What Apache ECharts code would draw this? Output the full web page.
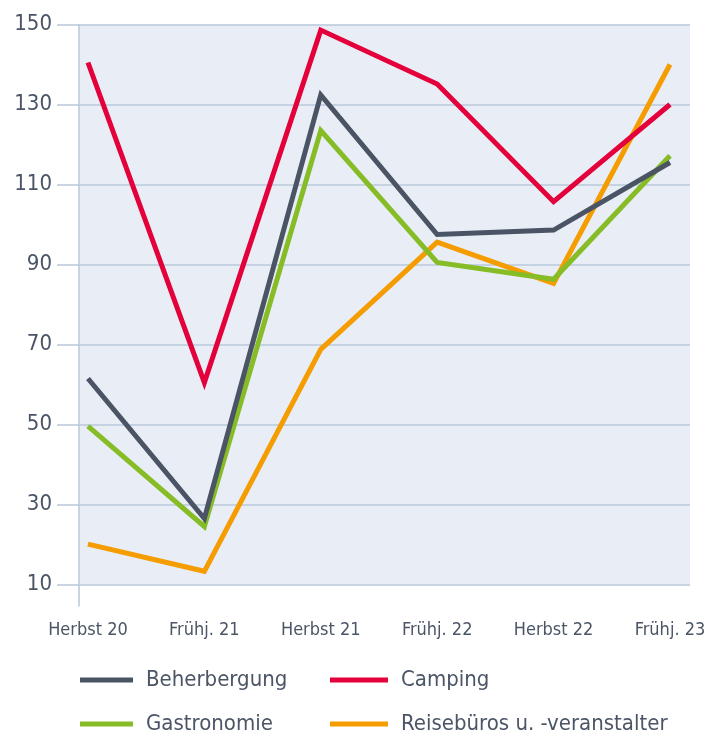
<!DOCTYPE html>
<html>
<head>
<meta charset="utf-8">
<title>Geschäftslage Tourismus</title>
<script src="https://cdn.jsdelivr.net/npm/echarts@6/dist/echarts.min.js"></script>
<style>
  html, body { margin: 0; padding: 0; background: #ffffff; }
  #chart { width: 722px; height: 736px; }
</style>
</head>
<body>
<div id="chart"></div>
<script>
// chart data
const categories = ['Herbst 20', 'Frühj. 21', 'Herbst 21', 'Frühj. 22', 'Herbst 22', 'Frühj. 23'];
const beherbergung = [61.5, 26.5, 132.4, 97.5, 98.6, 115.5];
const camping = [140.5, 60.5, 148.6, 135.1, 105.7, 130];
const gastronomie = [49.6, 24.5, 123.5, 90.5, 86.3, 117.2];
const reisebueros = [20.1, 13.3, 68.8, 95.6, 85.3, 140];
const seriesNames = ['Beherbergung', 'Camping', 'Gastronomie', 'Reisebüros u. -veranstalter'];

// y ticks run 10, 30, ... 150
const yMin = 10;
const yMax = 150;
const yStep = 20;

// no narrow DIN here, the condensed DejaVu is the closest match
const FONT = '"DejaVu Sans Condensed", "Liberation Sans Narrow", sans-serif';
const TEXT = '#4b5566';
const GRID = '#b9c8db';

// category positions sit a bit inside the plot frame
const X_MIN = -0.077;
const X_MAX = 5.172;

function toPoints(values) {
  // shift by yMin so the value axis can start at 0 and step evenly
  return values.map((v, i) => [i, v - yMin]);
}

function lineSeries(name, values, color) {
  return {
    name: name,
    type: 'line',
    data: toPoints(values),
    showSymbol: false,
    symbol: 'none',
    silent: true,
    lineStyle: { width: 5, color: color, cap: 'butt', join: 'miter' },
    itemStyle: { color: color }
  };
}

function legendColumn(names, left, iconWidth) {
  return {
    data: names,
    orient: 'vertical',
    left: left,
    top: 667,
    height: 80,
    padding: 0,
    itemWidth: iconWidth,
    itemHeight: 5,
    itemGap: 18,
    icon: 'rect',
    selectedMode: false,
    textStyle: {
      fontFamily: FONT,
      fontSize: 22,
      color: TEXT,
      lineHeight: 26,
      padding: [0, 0, 0, 8]
    }
  };
}

const chart = echarts.init(document.getElementById('chart'), null, { renderer: 'canvas' });

chart.setOption({
  animation: false,
  backgroundColor: '#ffffff',
  grid: {
    left: 79,
    right: 32,
    top: 24.5,
    bottom: 151.5,
    show: true,
    backgroundColor: '#e9edf5',
    borderWidth: 0
  },
  legend: [
    legendColumn([seriesNames[0], seriesNames[2]], 80, 53),
    legendColumn([seriesNames[1], seriesNames[3]], 330, 58)
  ],
  xAxis: {
    type: 'value',
    min: X_MIN,
    max: X_MAX,
    axisLine: { show: false },
    splitLine: { show: false },
    axisTick: {
      show: true,
      customValues: [X_MIN],
      length: 22,
      lineStyle: { color: GRID, width: 1.5 }
    },
    axisLabel: {
      customValues: categories.map((c, i) => i),
      formatter: (v) => categories[Math.round(v)] || '',
      margin: 37,
      fontFamily: FONT,
      fontSize: 18,
      color: TEXT
    }
  },
  yAxis: {
    type: 'value',
    min: 0,
    max: yMax - yMin,
    interval: yStep,
    axisLine: { show: true, onZero: false, lineStyle: { color: GRID, width: 1.5 } },
    axisTick: { show: true, length: 22, lineStyle: { color: GRID, width: 1.5 } },
    splitLine: { show: true, lineStyle: { color: GRID, width: 1.5 } },
    axisLabel: {
      formatter: (v) => String(v + yMin),
      margin: 27,
      fontFamily: FONT,
      fontSize: 22,
      color: TEXT
    }
  },
  // drawn back to front: orange, green, grey, red on top
  series: [
    lineSeries(seriesNames[3], reisebueros, '#f49c00'),
    lineSeries(seriesNames[2], gastronomie, '#86bc25'),
    lineSeries(seriesNames[0], beherbergung, '#4a5464'),
    lineSeries(seriesNames[1], camping, '#e3003b')
  ]
});
</script>
</body>
</html>
